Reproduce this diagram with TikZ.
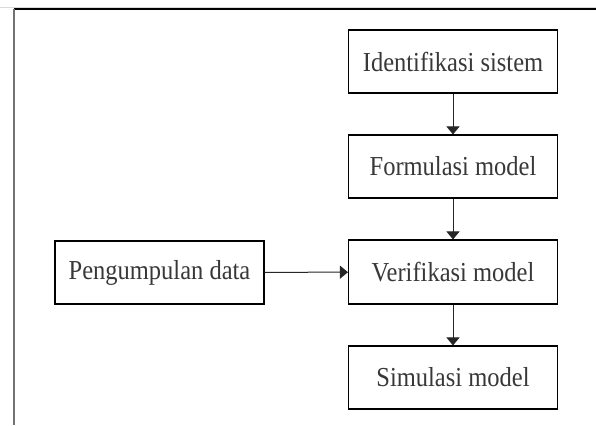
\documentclass[tikz,border=0pt]{standalone}
\usepackage{fontspec}
\setmainfont{Liberation Serif}
\usetikzlibrary{arrows.meta}
\newcommand{\tallt}[1]{\scalebox{1}[1.12]{#1}}
\begin{document}
\begin{tikzpicture}[x=1pt,y=-1pt,
  procbox/.style={draw=black,line width=1.1pt,minimum width=209pt,minimum height=63pt,inner sep=0pt,
    font=\fontsize{24.5}{28}\selectfont,text=black!78},
  flow/.style={draw=black!85,line width=1pt,-{Triangle[width=13pt,length=8pt]}}]
\useasboundingbox (0,0) rectangle (596,425);
\fill[white] (0,0) rectangle (596,425);
\draw[black!15,line width=1pt] (0,7.5) -- (596,7.5);
\draw[black,line width=1.3pt] (14,9) -- (596,9);
\draw[black!55,line width=2pt] (14,9) -- (14,425);
\node[procbox] (ident) at (453,61.5) {\tallt{Identifikasi sistem}};
\node[procbox] (form) at (453,166.5) {\tallt{Formulasi model}};
\node[procbox,minimum height=64pt] (verif) at (453,272) {\tallt{Verifikasi model}};
\node[procbox] (sim) at (453,377.5) {\tallt{Simulasi model}};
\node[procbox,minimum height=63pt] (pengum) at (159.5,272.5) {\tallt{Pengumpulan data}};
\draw[flow] (ident) -- (form);
\draw[flow] (form) -- (verif);
\draw[flow] (verif) -- (sim);
\draw[flow] (pengum) -- (verif);
\end{tikzpicture}
\end{document}
